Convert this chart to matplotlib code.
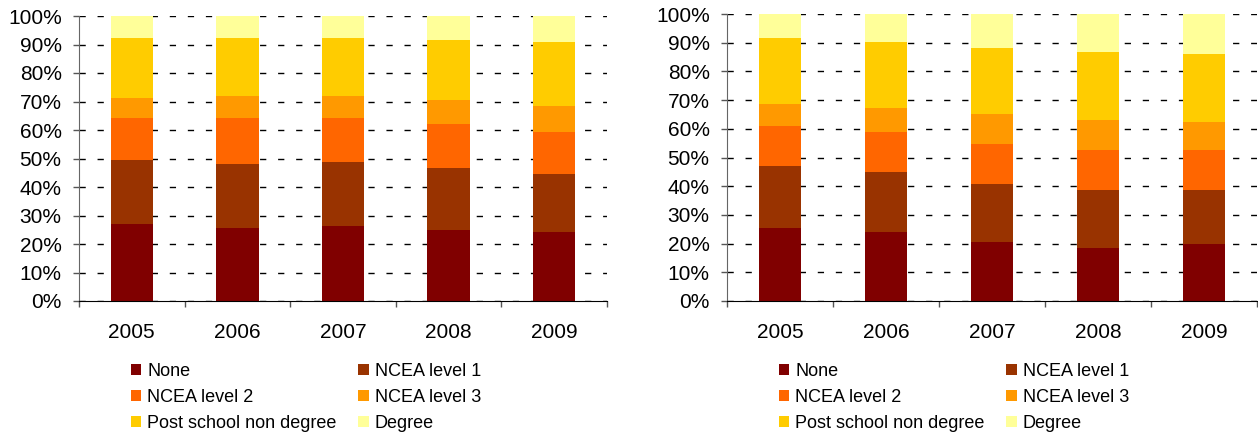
import matplotlib
matplotlib.use("Agg")
import matplotlib.pyplot as plt
from matplotlib.patches import Patch
from matplotlib.ticker import FixedLocator, FuncFormatter
import numpy as np

plt.rcParams['font.family'] = ['Liberation Sans', 'DejaVu Sans']

years = ["2005", "2006", "2007", "2008", "2009"]
series_names = ["None", "NCEA level 1", "NCEA level 2", "NCEA level 3",
                "Post school non degree", "Degree"]
colors = ["#800000", "#993300", "#FF6600", "#FF9900", "#FFCC00", "#FFFF99"]

# Left chart shares (%)
left_none = [27.0, 25.6, 26.3, 24.9, 24.2]
left_ncea1 = [22.5, 22.5, 22.5, 21.8, 20.4]
left_ncea2 = [14.7, 16.1, 15.4, 15.4, 14.7]
left_ncea3 = [7.0, 7.7, 7.7, 8.4, 9.1]
left_psnd = [21.1, 20.4, 20.4, 21.1, 22.5]
left_degree = [7.7, 7.7, 7.7, 8.4, 9.1]

# Right chart shares (%)
right_none = [25.4, 24.0, 20.6, 18.5, 19.9]
right_ncea1 = [21.6, 20.9, 20.2, 20.2, 18.8]
right_ncea2 = [14.0, 14.0, 13.9, 13.9, 13.9]
right_ncea3 = [7.6, 8.3, 10.5, 10.5, 9.8]
right_psnd = [23.0, 23.0, 23.0, 23.7, 23.7]
right_degree = [8.4, 9.8, 11.8, 13.2, 13.9]

left_data = [left_none, left_ncea1, left_ncea2, left_ncea3, left_psnd, left_degree]
right_data = [right_none, right_ncea1, right_ncea2, right_ncea3, right_psnd, right_degree]

W, H = 1258, 434
fig = plt.figure(figsize=(W / 100, H / 100), dpi=100)


def make_axes(x0, x1, ytop, ybot):
    return fig.add_axes([x0 / W, 1 - ybot / H, (x1 - x0) / W, (ybot - ytop) / H])


def draw(ax, data):
    x = np.arange(len(years))
    bottom = np.zeros(len(years))
    for vals, c in zip(data, colors):
        ax.bar(x, vals, width=0.4, bottom=bottom, color=c, zorder=3, linewidth=0)
        bottom += np.array(vals)
    ax.set_xlim(-0.5, len(years) - 0.5)
    ax.set_ylim(0, 100)
    ax.set_yticks(np.arange(0, 101, 10))
    ax.yaxis.set_major_formatter(FuncFormatter(lambda v, p: f"{int(v)}%"))
    ax.set_xticks(x)
    ax.set_xticklabels(years)
    ax.xaxis.set_minor_locator(FixedLocator(np.arange(-0.5, len(years), 1.0)))
    ax.tick_params(axis='x', which='major', length=0, pad=16, labelsize=15)
    ax.tick_params(axis='x', which='minor', length=4.5, width=1, color='#555555')
    ax.tick_params(axis='y', which='major', length=4.5, width=1, color='#555555',
                   pad=8, labelsize=15)
    ax.grid(axis='y', color='black', linewidth=1, linestyle=(0, (4.5, 8.5)), zorder=1)
    for s in ['top', 'right']:
        ax.spines[s].set_visible(False)
    ax.spines['left'].set_color('#666666')
    ax.spines['left'].set_zorder(4)
    ax.spines['bottom'].set_color('black')
    ax.spines['bottom'].set_zorder(4)
    ax.set_axisbelow(True)


axL = make_axes(79, 607, 16, 301)
axR = make_axes(727, 1257, 14, 301)
draw(axL, left_data)
draw(axR, right_data)

handles = [Patch(facecolor=c, edgecolor='none') for c in colors]
order = [0, 2, 4, 1, 3, 5]
for hx in (131, 779):
    fig.legend([handles[i] for i in order], [series_names[i] for i in order],
               ncol=2, loc='upper left', bbox_to_anchor=(hx / W, 1 - 363 / H),
               frameon=False, fontsize=13, handlelength=0.58, handleheight=0.58,
               handletextpad=0.33, columnspacing=1.2, labelspacing=0.5,
               borderpad=0, borderaxespad=0)

fig.savefig("out.png", dpi=100)
